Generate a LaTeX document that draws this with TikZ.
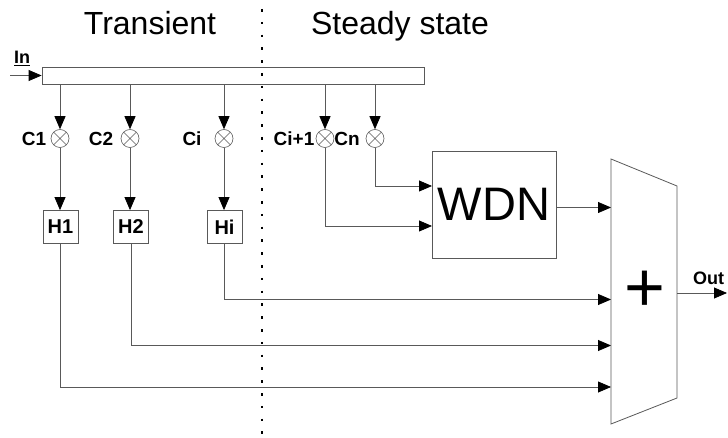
\documentclass[tikz,border=0pt]{standalone}
\usepackage{fontspec}
\setmainfont{Liberation Sans}
\usetikzlibrary{arrows.meta}
\begin{document}
\begin{tikzpicture}[x=1pt,y=-1pt,
  wire/.style={draw=black!65, line width=0.8pt},
  arr/.style={wire,-{Triangle[length=13pt,width=11pt,color=black]}},
  blk/.style={draw=black!65, line width=0.8pt, fill=white, inner sep=0pt},
  mult/.style={circle, draw=black!65, line width=0.6pt, minimum size=18pt, inner sep=0pt,
    path picture={
      \draw[black!65, line width=0.6pt]
        ([shift={(-6.4,-6.4)}]path picture bounding box.center) -- ([shift={(6.4,6.4)}]path picture bounding box.center)
        ([shift={(-6.4,6.4)}]path picture bounding box.center) -- ([shift={(6.4,-6.4)}]path picture bounding box.center);}},
  lab/.style={font=\fontsize{19}{22}\selectfont\bfseries, inner sep=0pt},
  title/.style={font=\fontsize{32}{36}\selectfont, inner sep=0pt},
  hbox/.style={blk, minimum width=35pt, minimum height=33pt, font=\fontsize{20}{22}\selectfont\bfseries}
]
\useasboundingbox (0,0) rectangle (728,438);

% titles
\node[title, anchor=base] (t1) at (150,35) {Transient};
\node[title, anchor=base] (t2) at (400,35) {Steady state};

% input bar
\node[blk, minimum width=382pt, minimum height=17pt] (bar) at (233,75.5) {};
\coordinate (inS) at (10,75.5);
\draw[arr] (inS) -- (bar.west);
\node[font=\fontsize{18}{20}\selectfont\bfseries, inner sep=0pt, anchor=base] (inlab) at (22,64) {\underline{In}};

% multipliers
\node[mult] (m1) at (60,138.5) {};
\node[mult] (m2) at (130,138.5) {};
\node[mult] (mi) at (224,138.5) {};
\node[mult] (mj) at (325,138.5) {};
\node[mult] (mn) at (375,138.5) {};

\node[lab] (c1) at (34,139) {C1};
\node[lab] (c2) at (101,139) {C2};
\node[lab] (ci) at (192,139) {Ci};
\node[lab] (cj) at (294,139) {Ci+1};
\node[lab] (cn) at (347,139) {Cn};

\foreach \m in {m1,m2,mi,mj,mn}{
  \draw[arr] (bar.south -| \m) -- (\m);
}

% H filters
\node[hbox] (h1) at (60.5,227) {H1};
\node[hbox] (h2) at (131,227) {H2};
\node[hbox] (hi) at (224.5,227) {Hi};
\draw[arr] (m1) -- (m1 |- h1.north);
\draw[arr] (m2) -- (m2 |- h2.north);
\draw[arr] (mi) -- (mi |- hi.north);

% WDN
\node[blk, minimum width=124pt, minimum height=107pt, font=\fontsize{47}{50}\selectfont] (wdn) at (494,204.5) {WDN};
\coordinate (w1) at (432,186);
\coordinate (w2) at (432,226);
\draw[arr] (mn) |- (w1);
\draw[arr] (mj) |- (w2);

% adder
\coordinate (aTL) at (611,159);
\coordinate (aTR) at (677,186);
\coordinate (aBR) at (677,398);
\coordinate (aBL) at (611,424);
\draw[wire, fill=white] (aTL) -- (aTR) -- (aBR) -- (aBL) -- cycle;
\node[font=\fontsize{70}{70}\selectfont, inner sep=0pt] (plus) at (645,291) {+};

\coordinate (in1) at (611,207.5);
\coordinate (in2) at (611,299.5);
\coordinate (in3) at (611,345.5);
\coordinate (in4) at (611,387);
\draw[arr] (wdn.east |- in1) -- (in1);
\draw[arr] (hi) |- (in2);
\draw[arr] (h2) |- (in3);
\draw[arr] (h1) |- (in4);

% output
\coordinate (aOut) at (677,293);
\coordinate (outE) at (727,293);
\draw[arr] (aOut) -- (outE);
\node[font=\fontsize{18}{20}\selectfont\bfseries, inner sep=0pt, anchor=base] (outlab) at (708.5,285) {Out};

% divider
\coordinate (dT) at (262,9);
\coordinate (dB) at (262,438);
\draw[black, line width=2.6pt, dash pattern=on 2.6pt off 10.2pt] (dT) -- (dB);
\end{tikzpicture}
\end{document}
